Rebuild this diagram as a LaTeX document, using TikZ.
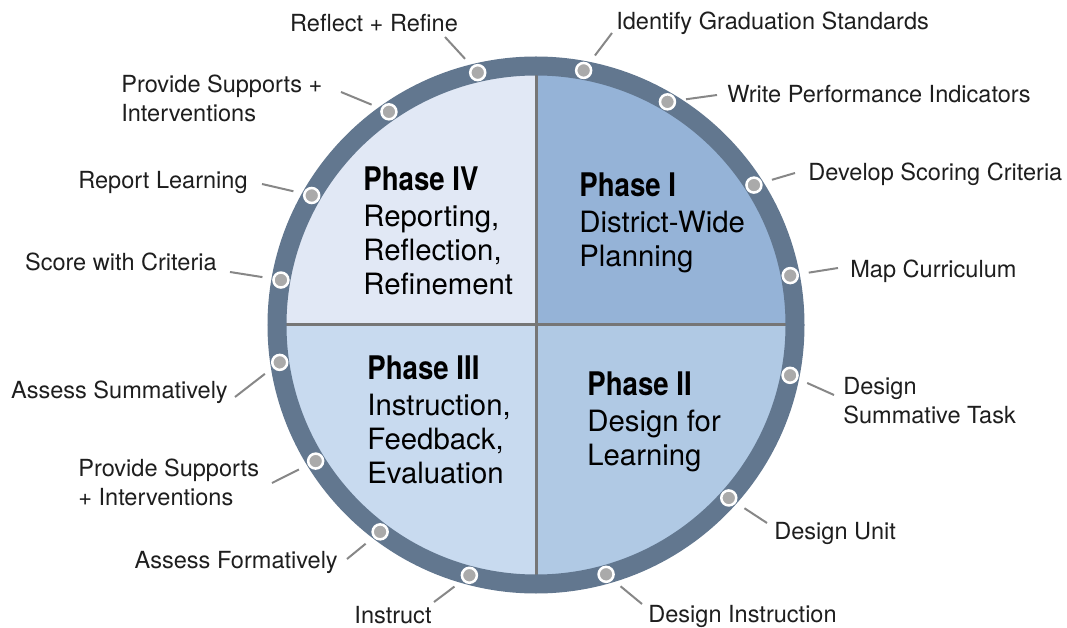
\documentclass[tikz,border=0pt]{standalone}
\usepackage{fontspec}
\setmainfont{TeX Gyre Heros}
\newfontfamily\phasefont[FakeStretch=0.85]{TeX Gyre Heros}
\newcommand{\phasetitle}[1]{{\fontsize{18.5pt}{19.35pt}\phasefont\bfseries #1}}

\begin{document}
\begin{tikzpicture}[x=0.02cm, y=0.02cm,
    dot/.style={circle, draw=white, fill=dotgray, line width=0.05cm, minimum size=0.3cm, inner sep=0pt},
    leader/.style={draw=leadergray, line width=0.04cm, shorten <=0.2cm},
    item/.style={align=left, inner sep=0pt, text=textcol, font=\fontsize{13.4pt}{16.5pt}\selectfont},
    phase/.style={align=left, inner sep=0pt, anchor=north west, text=black, font=\fontsize{16.7pt}{19.35pt}\selectfont}]
        \definecolor{ringcol}{RGB}{98,119,143}
        \definecolor{phaseI}{RGB}{149,179,215}
        \definecolor{phaseII}{RGB}{176,201,228}
        \definecolor{phaseIII}{RGB}{200,218,239}
        \definecolor{phaseIV}{RGB}{225,232,245}
        \definecolor{divider}{RGB}{118,118,118}
        \definecolor{dotgray}{RGB}{170,170,170}
        \definecolor{leadergray}{RGB}{135,135,135}
        \definecolor{textcol}{RGB}{30,30,30}
        \useasboundingbox (-536,-303) rectangle (531,325);
        % the four phases
        \begin{scope}
          \clip (0,0) circle (252);
          \fill[phaseI] (0,0) rectangle (260,260);
          \fill[phaseIV] (0,0) rectangle (-260,260);
          \fill[phaseIII] (0,0) rectangle (-260,-260);
          \fill[phaseII] (0,0) rectangle (260,-260);
        \end{scope}
        \draw[divider, line width=0.06cm] (0,252) -- (0,-252);
        \draw[divider, line width=0.06cm] (-252,0) -- (252,0);
        \draw[ringcol, line width=0.38cm] (0,0) circle (259);
        % steps round the ring
        \foreach \i/\a/\ex/\ey/\lx/\ly/\anc/\txt in {
            1/103/-91/288/-162/302/center/{Reflect + Refine},
            2/79.4/76/292/80/302/west/{Identify Graduation Standards},
            3/59.5/181/230/191/231/west/{Write Performance Indicators},
            4/32.7/259/152/272/151/west/{Develop Scoring Criteria},
            5/11/302/57/314/54/west/{Map Curriculum},
            6/-11.2/298/-70/307/-76/west/{Design\\Summative Task},
            7/-41.9/231/-198/238/-208/west/{Design Unit},
            8/-74.3/106/-279/112/-291/west/{Design Instruction},
            9/-104.9/-102/-277/-143/-290/center/{Instruct},
            10/-127/-189/-234/-198/-237/east/{Assess Formatively},
            11/-148.3/-264/-158/-458/-157/west/{Provide Supports\\+ Interventions},
            12/-171.7/-301/-72/-308/-67/east/{Assess Summatively},
            13/170/-306/53/-319/63/east/{Score with Criteria},
            14/150/-274/141/-288/143/east/{Report Learning},
            15/124.6/-195/233/-415/227/west/{Provide Supports +\\Interventions}} {
          \node[dot] (d\i) at (\a:259) {};
          \coordinate (e\i) at (\ex,\ey);
          \draw[leader] (d\i) -- (e\i);
          \node[item, anchor=\anc] (t\i) at (\lx,\ly) {\txt};
        }
        \node[phase] (p1) at (43,153) {\phasetitle{Phase I}\\[1.5pt]District-Wide\\Planning};
        \node[phase] (p2) at (51,-46) {\phasetitle{Phase II}\\[1.5pt]Design for\\Learning};
        \node[phase] (p3) at (-169,-30) {\phasetitle{Phase III}\\[1.5pt]Instruction,\\Feedback,\\Evaluation};
        \node[phase] (p4) at (-173,159) {\phasetitle{Phase IV}\\[1.5pt]Reporting,\\Reflection,\\Refinement};
      \end{tikzpicture}
\end{document}
